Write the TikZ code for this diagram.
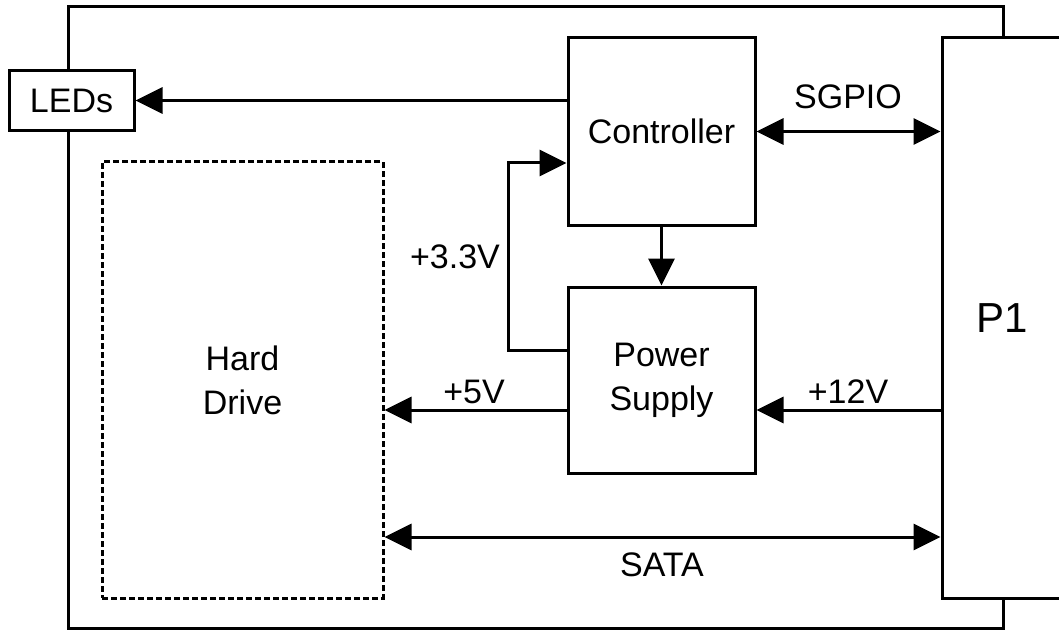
\documentclass[tikz,border=0pt]{standalone}
\usepackage{fontspec}
\setmainfont{Liberation Sans}
\usetikzlibrary{arrows.meta}
\begin{document}
\begin{tikzpicture}[x=1pt,y=-1pt,
  txt/.style={font=\fontsize{34}{44}\selectfont},
  box/.style={draw,line width=3pt,fill=white,inner sep=0pt,align=center,txt},
  lbl/.style={inner sep=0pt,txt},
  tip/.tip={Triangle[length=27pt,width=26pt]},
  arr/.style={line width=3pt,-tip},
  darr/.style={line width=3pt,tip-tip}]
\useasboundingbox (0,0) rectangle (1059,631);
% outer frame
\draw[line width=3pt] (68,7) rectangle (1003,628);
% blocks
\node[box,minimum width=125pt,minimum height=60pt] (leds) at (71.5,100.5) {LEDs};
\node[box,minimum width=187pt,minimum height=187pt] (ctrl) at (661.5,131.5) {Controller};
\node[box,minimum width=187pt,minimum height=186pt] (ps) at (661.5,380) {Power\\Supply};
\node[box,dash pattern=on 6pt off 3pt,minimum width=281pt,minimum height=436pt] (hd) at (242.5,380) {Hard\\Drive};
\node[box,minimum width=120pt,minimum height=560pt,font=\fontsize{42}{50}\selectfont] (p1) at (1002,318) {P1};
% row coordinates
\coordinate (v33a) at (508,350);
\coordinate (v33b) at (508,163);
\coordinate (r5) at (0,410);
\coordinate (rs) at (0,537);
% connectors
\draw[arr] (ctrl.west |- leds.east) -- (leds.east);
\draw[darr] (ctrl.east) -- (ctrl.east -| p1.west);
\draw[arr] (ctrl.south) -- (ps.north);
\draw[arr] (ps.west |- v33a) -- (v33a) -- (v33b) -- (ctrl.west |- v33b);
\draw[arr] (ps.west |- r5) -- (hd.east |- r5);
\draw[arr] (p1.west |- r5) -- (ps.east |- r5);
\draw[darr] (hd.east |- rs) -- (p1.west |- rs);
% labels
\node[lbl] (lsgpio) at (848,97) {SGPIO};
\node[lbl] (l33) at (455,257) {+3.3V};
\node[lbl] (l5) at (474,392) {+5V};
\node[lbl] (l12) at (848,392) {+12V};
\node[lbl] (lsata) at (662,565) {SATA};
\end{tikzpicture}
\end{document}
